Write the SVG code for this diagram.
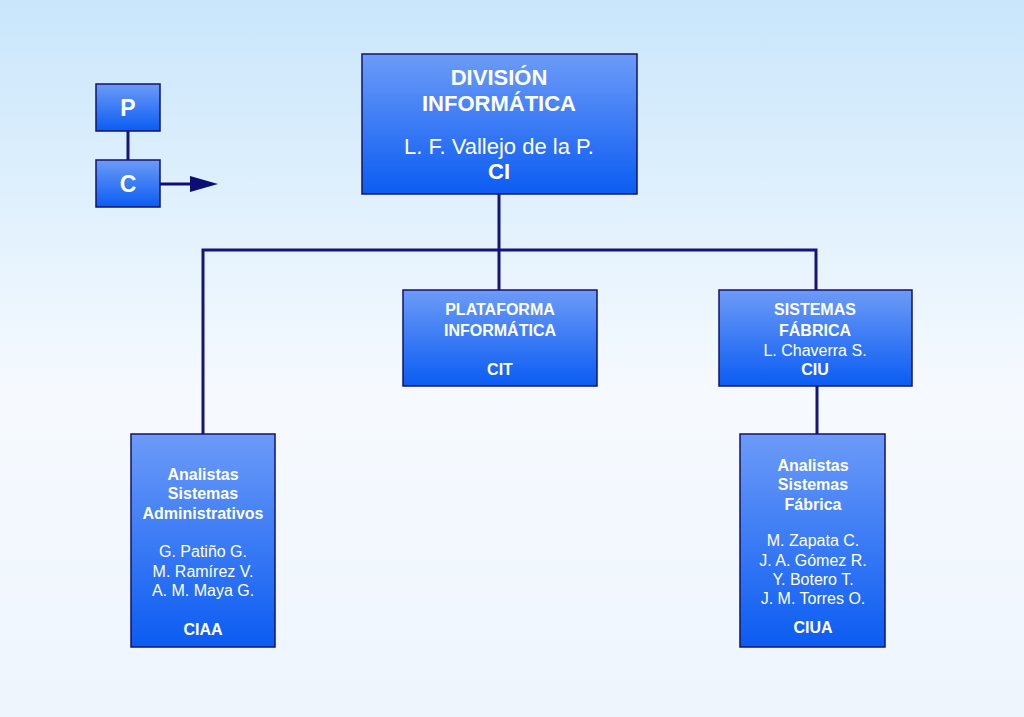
<svg xmlns="http://www.w3.org/2000/svg" width="1024" height="717" viewBox="0 0 1024 717">
<defs>
<linearGradient id="bg" x1="0" y1="0" x2="0" y2="1">
<stop offset="0" stop-color="#c9e6fb"/>
<stop offset="0.55" stop-color="#f6faff"/>
<stop offset="1" stop-color="#eef5fd"/>
</linearGradient>
<linearGradient id="box" x1="0" y1="0" x2="0" y2="1">
<stop offset="0" stop-color="#6c9bf8"/>
<stop offset="1" stop-color="#0b5cf2"/>
</linearGradient>
</defs>
<style>
.node{fill:url(#box);stroke:#13136b;stroke-width:1.5}
.b{font-family:"Liberation Sans",Arial,sans-serif;font-weight:bold;fill:#fff;text-anchor:middle}
.r{font-family:"Liberation Sans",Arial,sans-serif;fill:#fff;text-anchor:middle}
.ln{stroke:#14147a;stroke-width:3;fill:none}
</style>
<rect width="1024" height="717" fill="url(#bg)"/>
<g id="connectors">
<line class="ln" x1="128" y1="131" x2="128" y2="160"/>
<line x1="160" y1="184" x2="192" y2="184" stroke="#0d0d75" stroke-width="3"/>
<path d="M190,176 L218,184 L190,192 Z" fill="#0d0d75"/>
<polyline class="ln" points="499,194 499,250"/>
<polyline class="ln" points="203,434 203,250 816,250 816,290"/>
<line class="ln" x1="499" y1="250" x2="499" y2="290"/>
<line class="ln" x1="817" y1="386" x2="817" y2="434"/>
</g>
<g id="node-p">
<rect class="node" x="96" y="84" width="64" height="47"/>
<text class="b" x="128" y="116" font-size="23">P</text>
</g>
<g id="node-c">
<rect class="node" x="96" y="160" width="64" height="47"/>
<text class="b" x="128" y="192" font-size="23">C</text>
</g>
<g id="node-division">
<rect class="node" x="362" y="54" width="275" height="140"/>
<text class="b" x="499" y="85" font-size="22">DIVISIÓN</text>
<text class="b" x="499" y="111" font-size="22">INFORMÁTICA</text>
<text class="r" x="499" y="154" font-size="22">L. F. Vallejo de la P.</text>
<text class="b" x="499" y="179" font-size="22">CI</text>
</g>
<g id="node-plataforma">
<rect class="node" x="403" y="290" width="194" height="96"/>
<text class="b" x="500" y="315" font-size="16">PLATAFORMA</text>
<text class="b" x="500" y="336" font-size="16">INFORMÁTICA</text>
<text class="b" x="500" y="375" font-size="16">CIT</text>
</g>
<g id="node-sistemas">
<rect class="node" x="719" y="290" width="193" height="96"/>
<text class="b" x="815" y="315" font-size="16">SISTEMAS</text>
<text class="b" x="815" y="336" font-size="16">FÁBRICA</text>
<text class="r" x="815" y="356" font-size="16">L. Chaverra S.</text>
<text class="b" x="815" y="375" font-size="16">CIU</text>
</g>
<g id="node-ciaa">
<rect class="node" x="131" y="434" width="144" height="213"/>
<text class="b" x="203" y="480" font-size="16">Analistas</text>
<text class="b" x="203" y="499" font-size="16">Sistemas</text>
<text class="b" x="203" y="519" font-size="16">Administrativos</text>
<text class="r" x="203" y="557" font-size="16">G. Patiño G.</text>
<text class="r" x="203" y="577" font-size="16">M. Ramírez V.</text>
<text class="r" x="203" y="596" font-size="16">A. M. Maya G.</text>
<text class="b" x="203" y="635" font-size="16">CIAA</text>
</g>
<g id="node-ciua">
<rect class="node" x="740" y="434" width="145" height="213"/>
<text class="b" x="813" y="471" font-size="16">Analistas</text>
<text class="b" x="813" y="490" font-size="16">Sistemas</text>
<text class="b" x="813" y="510" font-size="16">Fábrica</text>
<text class="r" x="813" y="546" font-size="16">M. Zapata C.</text>
<text class="r" x="813" y="566" font-size="16">J. A. Gómez R.</text>
<text class="r" x="813" y="585" font-size="16">Y. Botero T.</text>
<text class="r" x="813" y="604" font-size="16">J. M. Torres O.</text>
<text class="b" x="813" y="633" font-size="16">CIUA</text>
</g>
</svg>
